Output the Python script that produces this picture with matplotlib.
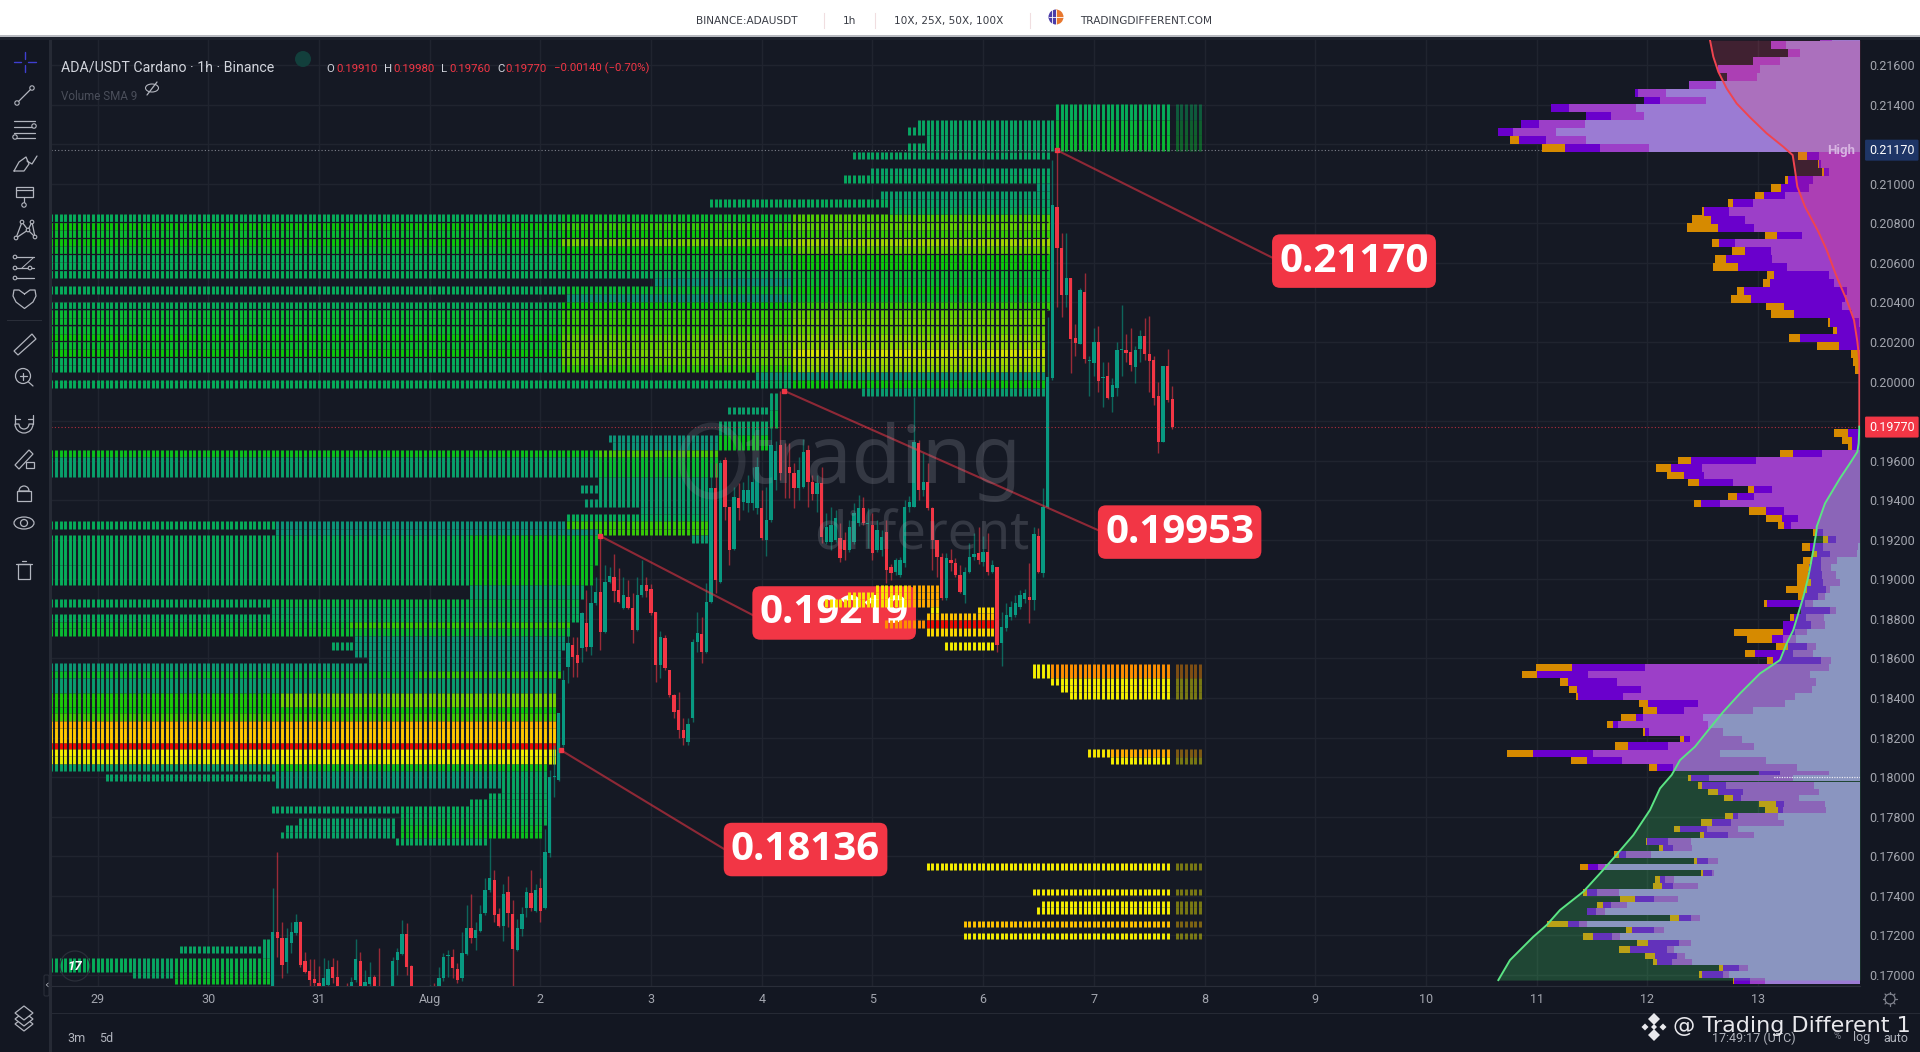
"""ADA/USDT 1h chart with liquidation heatmap and volume profile."""
import numpy as np
import matplotlib
matplotlib.use("Agg")
import matplotlib.pyplot as plt
from matplotlib.colors import LinearSegmentedColormap
from matplotlib.patches import Rectangle, Circle, Ellipse, Polygon, Wedge, FancyBboxPatch

BG = "#131722"
UP = "#089981"
DOWN = "#F23645"
GRID = "#20242F"
ICON = "#B2B5BE"

# candles: one per hour, prices in 1e-5 USDT, first candle at hour 38 after Jul 29 00:00
candle_first_hour = 38
candle_open = [
    16900, 17219, 17185, 17067, 17160, 17210, 17269, 17070, 17020, 16979,
    16957, 16930, 16949, 17038, 16991, 16930, 16935, 16941, 16974, 17070,
    16930, 16954, 16988, 16935, 16900, 16885, 16900, 17075, 17106, 17207,
    17045, 16930, 16900, 16890, 16910, 16930, 16930, 16983, 17096, 17089,
    17028, 16983, 17106, 17235, 17185, 17224, 17311, 17429, 17480, 17308,
    17249, 17417, 17308, 17126, 17232, 17340, 17416, 17325, 17438, 17337,
    17618, 18002, 17985, 18163, 18558, 18668, 18617, 18651, 18777, 18660,
    18878, 18937, 18735, 18988, 19010, 18946, 18853, 18912, 18853, 18743,
    18920, 18971, 18949, 18836, 18567, 18701, 18541, 18415, 18340, 18240,
    18180, 18300, 18685, 18723, 18634, 18887, 19460, 18988, 19603, 19367,
    19156, 19409, 19392, 19384, 19384, 19359, 19359, 19199, 19300, 19500,
    19679, 19540, 19569, 19536, 19460, 19468, 19653, 19493, 19434, 19485,
    19190, 19190, 19199, 19207, 19199, 19148, 19190, 19283, 19359, 19279,
    19274, 19148, 19150, 19241, 19064, 19038, 19022, 19081, 19367, 19367,
    19687, 19451, 19493, 19359, 19199, 19114, 18904, 19097, 19081, 19022,
    18920, 19038, 19114, 19131, 19089, 19140, 19038, 19064, 18676, 18752,
    18811, 18819, 18861, 18900, 18912, 18895, 19219, 19030, 19367, 20016,
    20884, 20677, 20438, 20522, 20219, 20190, 20451, 20106, 20096, 20199,
    20017, 20028, 19924, 19969, 20160, 20160, 20151, 20076, 20165, 20232,
    20140, 20109, 19929, 19696, 20081, 19910,
]
candle_close = [
    17219, 17185, 17050, 17185, 17219, 17269, 17050, 17013, 16974, 16957,
    16944, 16983, 17028, 16983, 16941, 16920, 16900, 16966, 17080, 16941,
    16966, 16988, 16930, 16900, 16885, 16900, 17070, 17117, 17207, 17042,
    16930, 16900, 16890, 16910, 16935, 16925, 16983, 17089, 17100, 17033,
    16974, 17109, 17235, 17185, 17227, 17306, 17429, 17488, 17303, 17247,
    17409, 17315, 17131, 17235, 17308, 17417, 17337, 17429, 17325, 17620,
    18002, 18008, 18324, 18490, 18676, 18609, 18575, 18828, 18660, 18878,
    18937, 18735, 18988, 19017, 18942, 18887, 18920, 18853, 18743, 18920,
    18971, 18942, 18828, 18567, 18710, 18550, 18415, 18330, 18240, 18200,
    18270, 18685, 18727, 18634, 18887, 19460, 18996, 19586, 19367, 19148,
    19418, 19359, 19451, 19451, 19493, 19569, 19207, 19300, 19679, 19650,
    19536, 19536, 19536, 19460, 19552, 19645, 19493, 19434, 19485, 19215,
    19266, 19274, 19308, 19106, 19148, 19266, 19333, 19359, 19283, 19281,
    19131, 19249, 19215, 19047, 19030, 19097, 19097, 19367, 19392, 19696,
    19451, 19493, 19359, 19199, 19114, 18904, 19106, 19081, 19022, 18937,
    19038, 19114, 19128, 19097, 19140, 19038, 19072, 18668, 18760, 18819,
    18861, 18878, 18920, 18930, 18895, 19227, 19038, 19367, 20025, 20893,
    20674, 20438, 20522, 20214, 20193, 20463, 20114, 20110, 20199, 20005,
    20019, 19915, 19983, 20160, 20162, 20146, 20084, 20160, 20232, 20140,
    20106, 19915, 19696, 20081, 19907, 19770,
]
candle_high = [
    17438, 17623, 17269, 17235, 17269, 17306, 17275, 17117, 17079, 17079,
    17045, 17087, 17075, 17087, 17075, 16940, 16957, 16991, 17180, 17117,
    17025, 17067, 17000, 17134, 16930, 16920, 17092, 17134, 17278, 17261,
    17050, 16935, 16925, 16930, 16950, 16960, 17038, 17109, 17126, 17129,
    17059, 17219, 17353, 17409, 17269, 17353, 17488, 17690, 17530, 17337,
    17459, 17502, 17379, 17281, 17345, 17446, 17530, 17459, 17488, 17738,
    18036, 18162, 18324, 18540, 18760, 18710, 18710, 18836, 18946, 18971,
    19013, 19225, 19072, 19064, 19128, 19055, 19013, 18996, 18929, 19013,
    19097, 19013, 18979, 18836, 18740, 18718, 18541, 18420, 18430, 18300,
    18300, 18700, 18836, 18811, 18980, 19590, 19586, 19603, 19620, 19367,
    19468, 19485, 19493, 19530, 19569, 19620, 19451, 19468, 19940, 19700,
    19953, 19690, 19688, 19586, 19620, 19712, 19679, 19530, 19527, 19569,
    19333, 19367, 19350, 19283, 19241, 19300, 19384, 19426, 19418, 19359,
    19333, 19300, 19250, 19300, 19080, 19110, 19114, 19400, 19420, 19923,
    19704, 19637, 19586, 19367, 19199, 19131, 19131, 19156, 19106, 19072,
    19064, 19182, 19232, 19266, 19220, 19232, 19100, 19064, 18836, 18878,
    18890, 18920, 18946, 18950, 19081, 19266, 19258, 19460, 20328, 21120,
    21171, 20749, 20749, 20522, 20291, 20471, 20547, 20129, 20269, 20281,
    20097, 20097, 20020, 20199, 20387, 20241, 20269, 20180, 20261, 20322,
    20332, 20129, 20000, 20081, 20163, 19980,
]
candle_low = [
    16880, 17092, 16983, 17011, 17109, 17200, 17038, 17008, 16941, 16930,
    16930, 16920, 16930, 16960, 16930, 16900, 16880, 16930, 16966, 16900,
    16920, 16940, 16900, 16880, 16870, 16860, 16890, 17000, 17100, 17000,
    16900, 16880, 16870, 16860, 16890, 16900, 16900, 16970, 16991, 16983,
    16957, 16970, 17100, 17163, 17126, 17219, 17303, 17420, 17269, 17240,
    17173, 17244, 16944, 17123, 17197, 17294, 17325, 17320, 17269, 17333,
    17598, 17901, 17980, 18150, 18474, 18508, 18508, 18580, 18640, 18617,
    18870, 18642, 18727, 18980, 18887, 18878, 18848, 18848, 18680, 18740,
    18912, 18909, 18820, 18483, 18499, 18541, 18407, 18300, 18200, 18165,
    18160, 18280, 18634, 18575, 18626, 18880, 18929, 18980, 19300, 19072,
    19148, 19300, 19350, 19340, 19350, 19330, 19200, 19120, 19290, 19450,
    19500, 19409, 19409, 19359, 19400, 19460, 19367, 19400, 19340, 19182,
    19180, 19148, 19190, 19089, 19098, 19140, 19180, 19270, 19275, 19160,
    19098, 19140, 19120, 18980, 18996, 19020, 19010, 19064, 19340, 19364,
    19401, 19420, 19350, 19047, 19013, 18895, 18895, 19040, 19010, 18929,
    18878, 19030, 19100, 19080, 19070, 19020, 19030, 18634, 18561, 18740,
    18795, 18810, 18850, 18880, 18777, 18845, 19030, 19010, 19360, 20010,
    20379, 20325, 20379, 20042, 20129, 20188, 20092, 19929, 20030, 19949,
    19873, 19912, 19848, 19929, 20030, 20101, 20055, 19991, 20101, 20109,
    19949, 19882, 19641, 19694, 19899, 19760,
]

# heatmap block above 0.199: row tops and a level for each of three hour ranges
main_top = [20847, 20806, 20765, 20725, 20684, 20644, 20603, 20563, 20523, 20483, 20443, 20403,
            20363, 20323, 20283, 20243, 20203, 20164, 20124, 20085, 20046, 20006, 19967, 19928]
main_start = [-10, -10, -10, -10, -10, -10, -10, -10, 121, -10, 102, -10,
              -10, -10, -10, -10, -10, -10, -10, -10, 143, -10, 166]
main_end = [206, 206, 206, 206, 206, 206, 206, 206, 206, 206, 206, 206,
            205, 205, 205, 205, 205, 205, 205, 205, 205, 205, 205]
main_level_a = [1, 2, 1.5, 2, 1.5, 1, 1, 1, 0.3, 1, 0.3, 1, 1.5, 1.5, 1.5, 2, 1.5, 2, 1, 1, 0.3, 1, 0.5]
main_level_b = [1.5, 2.5, 2, 3.3, 2, 1.5, 1.5, 1, 0.3, 1.5, 0.3, 2, 2.5, 2.5, 2.5, 3, 3, 3.3, 3, 2.5, 0.3, 1, 0.5]
main_level_c = [2.8, 3, 2.5, 3.8, 3, 2, 2, 1.5, 1.5, 2, 1.5, 2.5, 3, 3.2, 3, 3.5, 3.5, 4.5, 3.8, 3.5, 0.3, 2, 0.5]
main_divider = [20806, 20724, 20643, 20562, 20365, 20284, 20203, 20122]

# all other heatmap stretches
heat_top = [
    21403, 21322, 21246, 21322, 21287, 21246, 21207, 21162, 21081, 21044,
    21004, 20963, 20923, 20923, 20882, 19942, 19856, 19873, 19800, 19730,
    19730, 19694, 19654, 19654, 19617, 19617, 19517, 19477, 19405, 19366,
    19330, 19296, 19296, 19296, 19256, 19256, 19224, 19224, 19224, 19073,
    19073, 18971, 18899, 18899, 18862, 18825, 18825, 18786, 18786, 18753,
    18753, 18714, 18685, 18685, 18643, 18607, 18576, 18537, 18537, 18500,
    18424, 18424, 18353, 18323, 18284, 18249, 18174, 18142, 18105, 18067,
    18067, 18015, 18033, 18033, 17920, 17888, 17854, 17854, 17820, 17792,
    17792, 17758, 17758, 17724, 17724, 17691, 17147, 17180, 17084, 17084,
    17084, 17017, 17017, 16983, 18971, 18971, 18935, 18935, 18901, 18901,
    18862, 18862, 18828, 18795, 18795, 18753, 18683, 18572, 18572, 18503,
    18466, 18429, 18141, 18141, 18104, 17565, 17436, 17374, 17342, 17274,
    17214,
]
heat_bottom = [
    21322, 21246, 21167, 21246, 21246, 21167, 21167, 21123, 21044, 21004,
    20963, 20923, 20882, 20882, 20847, 19856, 19765, 19836, 19730, 19654,
    19694, 19654, 19617, 19617, 19517, 19517, 19366, 19438, 19366, 19330,
    19296, 19256, 19256, 19256, 19224, 19224, 19185, 19073, 19073, 18971,
    18971, 18899, 18862, 18862, 18825, 18786, 18786, 18753, 18753, 18714,
    18714, 18685, 18643, 18643, 18607, 18576, 18537, 18500, 18500, 18424,
    18353, 18353, 18323, 18284, 18249, 18174, 18142, 18105, 18067, 18033,
    18033, 17981, 17947, 17920, 17888, 17854, 17820, 17820, 17792, 17758,
    17758, 17724, 17724, 17691, 17691, 17657, 17113, 17084, 17017, 17017,
    17017, 16983, 16983, 16956, 18935, 18935, 18901, 18901, 18862, 18862,
    18828, 18828, 18795, 18753, 18753, 18715, 18643, 18503, 18503, 18466,
    18429, 18394, 18104, 18104, 18067, 17531, 17403, 17342, 17308, 17243,
    17180,
]
heat_from = [
    208, 208, 208, 178, 176, 180, 176, 164, 168, 162,
    204, 170, 133, 172, 172, 146, 146, 137, 135, 135,
    111, 112, -10, 109, -10, 109, 109, 105, 106, 118,
    102, -10, 39, 102, 39, 109, 129, -10, 81, -10,
    81, 81, -10, 38, 38, -10, 38, -10, 55, -10,
    55, 56, 51, 56, 56, 59, -10, -10, 70, -10,
    -10, 40, -10, -10, -10, -10, -10, -10, -10, -10,
    39, 2, 39, 88, 85, 81, 38, 66, 66, 44,
    66, 41, 66, 40, 66, 65, 18, 36, -10, 8,
    17, 8, 17, 17, 169, 176, 163, 176, 158, 176,
    181, 191, 180, 171, 180, 180, 184, 203, 207, 207,
    209, 211, 215, 220, 220, 180, 203, 205, 204, 188,
    188,
]
heat_to = [
    232, 232, 232, 207, 177, 207, 179, 206, 206, 206,
    206, 206, 172, 206, 206, 147, 147, 145, 145, 145,
    134, 134, 108, 134, 108, 134, 132, 108, 108, 132,
    132, 38, 101, 132, 108, 132, 132, 80, 108, 80,
    107, 105, 37, 104, 104, 37, 104, 54, 102, 54,
    102, 101, 55, 101, 100, 100, 100, 69, 100, 99,
    39, 99, 99, 99, 99, 99, 99, 99, 99, 38,
    97, 38, 87, 97, 97, 97, 65, 97, 97, 64,
    97, 64, 96, 64, 96, 84, 35, 37, 7, 16,
    37, 16, 37, 37, 175, 182, 175, 182, 175, 182,
    182, 194, 194, 179, 194, 194, 194, 206, 232, 232,
    232, 232, 219, 232, 232, 232, 232, 232, 232, 232,
    232,
]
heat_level = [
    1.0, 1.4, 1.5, 0.8, 0.8, 0.8, 0.8, 0.8, 0.7, 0.9,
    0.4, 0.6, 1.0, 0.7, 1.0, 0.6, 1.2, 0.6, 0.7, 1.8,
    0.3, 0.3, 1.8, 2.7, 0.6, 1.5, 0.6, 0.5, 0.5, 0.6,
    1.0, 1.0, 0.3, 2.5, 0.3, 2.5, 0.5, 1.0, 1.7, 1.0,
    1.8, 0.6, 1.0, 1.3, 0.9, 1.0, 1.0, 1.5, 2.5, 1.5,
    1.5, 0.4, 0.8, 0.4, 0.4, 0.4, 0.4, 1.6, 2.5, 0.5,
    2.2, 3.2, 2.0, 2.6, 6.4, 5.9, 8.0, 5.0, 4.7, 0.7,
    1.8, 0.7, 0.4, 0.8, 0.9, 1.0, 0.7, 1.0, 1.0, 0.7,
    1.2, 0.7, 1.6, 0.7, 1.8, 0.9, 0.8, 0.8, 1.0, 0.8,
    1.2, 0.8, 1.5, 1.6, 5.2, 6.5, 5.2, 6.5, 5.3, 6.5,
    5.0, 5.5, 6.0, 7.0, 8.0, 5.5, 5.0, 5.0, 7.0, 5.0,
    5.0, 5.0, 5.2, 6.5, 5.0, 5.0, 5.0, 5.0, 5.0, 6.0,
    5.0,
]

# volume profile rows: price (1e-5 USDT) and stacked volume ends, arbitrary units
vp_price = [
    21743, 21701, 21662, 21622, 21582, 21541, 21501, 21460, 21420, 21381,
    21341, 21300, 21261, 21221, 21180, 21140, 21100, 21061, 21020, 20980,
    20940, 20901, 20860, 20820, 20779, 20739, 20700, 20660, 20619, 20579,
    20538, 20498, 20459, 20419, 20380, 20340, 20299, 20260, 20220, 20180,
    20139, 20100, 20060, 19741, 19704, 19671, 19635, 19598, 19563, 19526,
    19489, 19453, 19418, 19383, 19346, 19308, 19273, 19236, 19202, 19165,
    19128, 19094, 19059, 19022, 18984, 18949, 18914, 18878, 18841, 18806,
    18769, 18733, 18698, 18659, 18624, 18588, 18553, 18518, 18481, 18444,
    18408, 18373, 18336, 18300, 18265, 18228, 18192, 18157, 18120, 18085,
    18049, 18015, 17994, 17960, 17926, 17896, 17864, 17834, 17802, 17770,
    17738, 17706, 17674, 17642, 17610, 17577, 17545, 17513, 17481, 17449,
    17417, 17385, 17353, 17321, 17289, 17257, 17225, 17193, 17161, 17129,
    17097, 17065, 17033, 17001, 16969,
]
vp_orange = [
    120, 267, 217, 320, 425, 400, 512, 675, 647, 928,
    822, 1018, 1086, 1050, 954, 185, 126, 115, 224, 267,
    315, 396, 475, 503, 520, 284, 444, 385, 435, 441,
    278, 292, 368, 387, 282, 267, 96, 81, 213, 129,
    28, 20, 14, 79, 53, 37, 240, 545, 613, 579,
    515, 335, 397, 498, 332, 282, 245, 140, 110, 174,
    140, 170, 188, 188, 188, 222, 185, 287, 178, 210,
    232, 377, 340, 253, 346, 278, 973, 1015, 900, 872,
    852, 663, 652, 717, 758, 650, 540, 734, 1058, 866,
    633, 303, 517, 485, 455, 408, 303, 285, 405, 478,
    557, 480, 643, 603, 738, 497, 840, 478, 615, 622,
    832, 720, 790, 818, 570, 940, 703, 832, 670, 723,
    644, 620, 422, 483, 380,
]
vp_dark = [
    120, 267, 217, 320, 425, 400, 512, 675, 647, 928,
    822, 1018, 1086, 1023, 885, 160, 122, 108, 217, 236,
    287, 380, 467, 447, 427, 250, 422, 345, 402, 367,
    259, 270, 349, 327, 228, 197, 90, 68, 180, 62,
    0, 0, 0, 36, 25, 25, 202, 508, 568, 529,
    483, 318, 368, 478, 283, 233, 228, 130, 97, 150,
    130, 145, 152, 155, 148, 158, 170, 280, 178, 198,
    232, 230, 265, 215, 315, 262, 863, 970, 875, 848,
    846, 636, 610, 672, 742, 645, 528, 695, 982, 818,
    608, 303, 507, 475, 425, 382, 253, 245, 380, 445,
    540, 467, 638, 590, 723, 488, 816, 472, 600, 593,
    818, 675, 772, 818, 542, 876, 684, 800, 635, 690,
    615, 610, 412, 475, 377,
]
vp_mid = [
    120, 267, 217, 320, 425, 400, 512, 667, 600, 873,
    748, 962, 1041, 942, 780, 123, 118, 93, 142, 152,
    226, 322, 392, 346, 318, 175, 375, 267, 265, 220,
    93, 78, 40, 45, 54, 25, 2, 0, 0, 0,
    0, 0, 0, 0, 0, 0, 115, 312, 473, 468,
    382, 264, 318, 420, 228, 186, 208, 110, 72, 110,
    90, 118, 118, 115, 112, 102, 125, 165, 90, 162,
    148, 195, 232, 158, 200, 117, 645, 815, 730, 658,
    712, 487, 528, 650, 727, 633, 510, 575, 800, 714,
    560, 240, 452, 402, 350, 357, 228, 230, 365, 387,
    460, 397, 577, 560, 702, 455, 785, 445, 585, 560,
    790, 618, 748, 792, 508, 843, 617, 743, 543, 580,
    548, 565, 363, 410, 330,
]
vp_light = [
    85, 223, 180, 240, 300, 310, 433, 582, 462, 672,
    648, 825, 912, 822, 633, 0, 0, 0, 0, 0,
    0, 0, 0, 0, 0, 0, 0, 0, 0, 0,
    0, 0, 0, 0, 0, 0, 0, 0, 0, 0,
    0, 0, 0, 0, 0, 0, 0, 0, 0, 0,
    0, 0, 0, 0, 0, 0, 0, 0, 0, 5,
    10, 70, 87, 72, 60, 90, 105, 140, 73, 107,
    105, 160, 192, 132, 140, 87, 93, 150, 132, 143,
    195, 225, 322, 470, 455, 412, 355, 318, 420, 282,
    190, 93, 202, 138, 124, 182, 105, 102, 245, 227,
    367, 317, 507, 505, 627, 425, 765, 437, 558, 485,
    723, 547, 698, 765, 480, 819, 588, 720, 507, 558,
    524, 505, 335, 392, 285,
]

# moving curves over the profile
red_curve_price = [21726, 21642, 21566, 21482, 21406, 21336, 21255, 21187, 21145, 21069,
                   20985, 20884, 20758, 20665, 20530, 20412, 20311, 20202, 20109, 19772]
red_curve_vol = [450, 440, 425, 400, 370, 330, 280, 230, 202, 195,
                 188, 165, 125, 100, 70, 40, 18, 8, 2, 2]
green_curve_price = [19772, 19688, 19645, 19587, 19511, 19384, 19266, 19249, 19148, 19013, 18912,
                     18828, 18744, 18676, 18592, 18524, 18423, 18331, 18238, 18154, 18086,
                     18011, 17943, 17834, 17707, 17589, 17513, 17421, 17328, 17252, 17193,
                     17075, 16974]
green_curve_vol = [2, 4, 8, 30, 60, 105, 130, 130, 140, 155, 170,
                   185, 200, 220, 240, 300, 360, 410, 455, 495, 540,
                   565, 600, 630, 680, 740, 780, 830, 900, 940, 980,
                   1050, 1085]

price_ticks = [0.170, 0.172, 0.174, 0.176, 0.178, 0.180, 0.182, 0.184, 0.186, 0.188, 0.190, 0.192,
               0.194, 0.196, 0.198, 0.200, 0.202, 0.204, 0.206, 0.208, 0.210, 0.212, 0.214, 0.216]
day_labels = ["29", "30", "31", "Aug", "2", "3", "4", "5", "6", "7", "8", "9", "10", "11", "12", "13"]

# drawn callouts: hour and price where the line starts, where it meets the box, box text
call_text = ["0.21170", "0.19953", "0.19219", "0.18136"]
call_hour = [208.0, 148.9, 109.0, 100.5]
call_price = [0.21170, 0.19953, 0.19219, 0.18136]
call_end_hour = [254.9, 216.9, 142.0, 135.8]
call_end_price = [0.20624, 0.19249, 0.18820, 0.17637]
call_box_hour = [272.4, 234.6, 159.7, 153.5]
call_box_price = [0.20609, 0.19239, 0.18830, 0.17634]

plt.rcParams["font.family"] = ["Roboto", "DejaVu Sans"]

fig = plt.figure(figsize=(19.2, 10.52), dpi=100, facecolor=BG)
ax = fig.add_axes([52 / 1920, 1 - 986 / 1052, 1808 / 1920, 946 / 1052], facecolor="#151924")
ax.set_xlim(-9.87, 382.1)
ax.set_ylim(0.16944, 0.21727)

ax.set_xticks(np.arange(len(day_labels)) * 24)
ax.set_xticklabels(day_labels)
ax.set_yticks(price_ticks)
ax.set_yticklabels([f"{v:.5f}" for v in price_ticks])
ax.yaxis.tick_right()
ax.tick_params(length=0, labelsize=9, colors="#A3A6AF")
ax.tick_params(axis="y", pad=6.5)
ax.tick_params(axis="x", pad=5)
ax.grid(color=GRID, linewidth=1)
ax.set_axisbelow(True)
for side in ["top", "left", "right"]:
    ax.spines[side].set_visible(False)
ax.spines["bottom"].set_color("#2A2E39")

cmap = LinearSegmentedColormap.from_list("heat", [
    (0 / 8, "#0E8C84"), (1 / 8, "#06AD5A"), (2 / 8, "#0BC60C"), (3 / 8, "#62CF02"),
    (4 / 8, "#B5DC02"), (5 / 8, "#F6F000"), (6 / 8, "#FFC400"), (7 / 8, "#FF9400"), (8 / 8, "#F00A00")])


def heat_columns(top, bottom, start, end, level):
    hours = np.arange(np.ceil(start), np.floor(end) + 1)
    if len(hours):
        ax.vlines(hours, bottom / 1e5, top / 1e5, colors=[cmap(level / 8)], linewidth=2.1,
                  capstyle="butt", zorder=3)
    if end == 232:
        # the stretch carried on past the last candle is faded
        ax.vlines(np.arange(234, 240), bottom / 1e5, top / 1e5, colors=[cmap(level / 8)], linewidth=2.1,
                  capstyle="butt", alpha=0.45, zorder=3)


for i in range(len(main_start)):
    heat_columns(main_top[i], main_top[i + 1], max(main_start[i], -10), min(main_end[i], 100), main_level_a[i])
    heat_columns(main_top[i], main_top[i + 1], max(main_start[i], 101), min(main_end[i], 150), main_level_b[i])
    heat_columns(main_top[i], main_top[i + 1], max(main_start[i], 151), main_end[i], main_level_c[i])
for row in zip(heat_top, heat_bottom, heat_from, heat_to, heat_level, strict=True):
    heat_columns(*row)
ax.hlines(np.array(main_divider) / 1e5, -10, 206, color=BG, linewidth=0.9, zorder=3.2)

# candles
c_open = np.array(candle_open) / 1e5
c_close = np.array(candle_close) / 1e5
c_high = np.array(candle_high) / 1e5
c_low = np.array(candle_low) / 1e5
c_hour = candle_first_hour + np.arange(len(c_open))
c_color = np.where(c_close >= c_open, UP, DOWN)
ax.vlines(c_hour, c_low, c_high, colors=list(c_color), linewidth=1.0, alpha=0.6, zorder=4)
body = np.maximum(np.abs(c_close - c_open), 0.00004)
ax.bar(c_hour, body, bottom=np.minimum(c_open, c_close), width=0.72, color=list(c_color), zorder=4.2)

# callouts
for i in range(len(call_text)):
    ax.text(call_box_hour[i], call_box_price[i], call_text[i], color="white", fontsize=29, fontweight="bold",
            family="Open Sans", ha="center", va="center", zorder=2,
            bbox=dict(boxstyle="round,pad=0.18,rounding_size=0.2", fc=DOWN, ec="none"))
    ax.plot([call_hour[i], call_end_hour[i]], [call_price[i], call_end_price[i]], color=DOWN,
            alpha=0.55, linewidth=1.5, zorder=5)
    ax.plot([call_hour[i]], [call_price[i]], "s", color=DOWN, markersize=3.2, zorder=5)

# last price and high lines
ax.hlines(0.21170, -10, 382, color="#7E818C", linewidth=0.8, linestyles=(0, (1, 2)), zorder=5)
ax.hlines(0.19770, -10, 382, color=DOWN, linewidth=0.8, alpha=0.7, linestyles=(0, (1, 2)), zorder=5)

# volume profile on its own x scale, measured from the right edge
ax_vp = ax.twiny()
ax_vp.set_xlim(5424, 0)
ax_vp.set_xticks([])
ax_vp.grid(False)
for side in ax_vp.spines:
    ax_vp.spines[side].set_visible(False)
vp_p = np.array(vp_price) / 1e5
vp_height = np.minimum(np.abs(np.gradient(vp_p)) * 1.04, vp_p * 0.00215)
for vols, col in [(vp_orange, "#D68A00"), (vp_dark, "#6A00CC"), (vp_mid, "#9C3FC8"), (vp_light, "#9B7BD3")]:
    ax_vp.barh(vp_p, vols, height=vp_height, color=col, linewidth=0, zorder=2)
ax_vp.fill_betweenx(np.array(red_curve_price) / 1e5, red_curve_vol, 0, color=(239 / 255, 68 / 255, 104 / 255),
                    alpha=0.2, linewidth=0, zorder=3)
ax_vp.fill_betweenx(np.array(green_curve_price) / 1e5, green_curve_vol, 0, color=(74 / 255, 1.0, 120 / 255),
                    alpha=0.2, linewidth=0, zorder=3)
ax_vp.plot(red_curve_vol, np.array(red_curve_price) / 1e5, color="#F0444F", linewidth=1.4, zorder=4)
ax_vp.plot(green_curve_vol, np.array(green_curve_price) / 1e5, color="#5BE584", linewidth=1.4, zorder=4)
ax_vp.hlines(0.18, 0, 260, color="#E8E8F0", linewidth=0.9, linestyles=(0, (1, 1)), zorder=4)
ax_vp.text(15, 0.21170, "High", color="#D8B4E2", fontsize=9.5, fontweight="bold", ha="right", va="center", zorder=5)

# price tags on the scale
tag_tf = ax.get_yaxis_transform()
for price, text, col in [(0.21170, "0.21170", "#1E3566"), (0.19770, "0.19770", DOWN)]:
    ax.text(1.005, price, text, transform=tag_tf, color="white", fontsize=9, ha="left", va="center", zorder=8,
            clip_on=False, bbox=dict(boxstyle="round,pad=0.32,rounding_size=0.1", fc=col, ec="none"))

# everything else sits on a pixel overlay
ov = fig.add_axes([0, 0, 1, 1], facecolor="none")
ov.set_xlim(0, 1920)
ov.set_ylim(1052, 0)
ov.axis("off")


def stroke(xs, ys, color=ICON, lw=0.9):
    ov.plot(xs, ys, color=color, linewidth=lw, solid_capstyle="round")


def ring(x, y, r=2.2, color=ICON):
    ov.add_patch(Circle((x, y), r, fc=BG, ec=color, lw=0.8, zorder=3))


ov.add_patch(Rectangle((0, 0), 1920, 35, fc="white", ec="none"))
ov.add_patch(Rectangle((0, 35), 1920, 1.5, fc="#B8BAC0", ec="none"))
ov.add_patch(Rectangle((0, 36.5), 1920, 3.5, fc="#1E222D", ec="none"))
ov.add_patch(Rectangle((49, 40), 3, 1012, fc="#262A35", ec="none"))
ov.add_patch(Rectangle((52, 1013), 1868, 1, fc="#262A35", ec="none"))

for x0, text in [(696, "BINANCE:ADAUSDT"), (843, "1h"), (894, "10X, 25X, 50X, 100X"), (1080, "TRADINGDIFFERENT.COM")]:
    ov.text(x0, 21, text, color="#3A3D46", fontsize=7.6, family="DejaVu Sans", ha="left", va="center")
for x0 in [824, 875, 1030]:
    ov.plot([x0, x0], [13, 28], color="#F0DEE0", linewidth=0.8)
ov.add_patch(Wedge((1056, 17), 7.5, 90, 270, fc="#4A3BA8", ec="none"))
ov.add_patch(Wedge((1056, 17), 7.5, 270, 90, fc="#E8772E", ec="none"))
ov.plot([1052, 1052], [10, 24], color="white", linewidth=0.6)
ov.plot([1056, 1056], [10, 24], color="white", linewidth=0.6)
ov.plot([1049, 1063], [17, 17], color="white", linewidth=0.6)

# legend lines
ov.text(61, 68, "ADA/USDT Cardano · 1h · Binance", color="#D1D4DC", fontsize=10.2, ha="left", va="center")
ov.add_patch(Ellipse((303, 59), 16, 16, fc="#123F3C", ec="none"))
for x0, text, col in [(326, "O", "#D1D4DC"), (336, "0.19910", DOWN), (384, "H", "#D1D4DC"), (393, "0.19980", DOWN),
                      (441, "L", "#D1D4DC"), (449, "0.19760", DOWN), (497, "C", "#D1D4DC"), (505, "0.19770", DOWN),
                      (554, "\u22120.00140 (\u22120.70%)", DOWN)]:
    ov.text(x0, 68.5, text, color=col, fontsize=8.2, ha="left", va="center")
ov.text(61, 96, "Volume SMA 9", color="#4A4E5A", fontsize=8.4, ha="left", va="center")
ov.add_patch(Ellipse((152, 88), 13, 8, fc="none", ec=ICON, lw=0.8))
stroke([147, 157], [95, 82])

# left toolbar icons
stroke([24.5, 24.5], [52, 59], "#3F3FD0", 1.0)
stroke([24.5, 24.5], [65, 72], "#3F3FD0", 1.0)
stroke([14, 21], [62, 62], "#3F3FD0", 1.0)
stroke([28, 36], [62, 62], "#3F3FD0", 1.0)
stroke([17, 32], [103, 88])
ring(17, 103)
ring(32, 88)
for yy, x0 in [(121, 14), (127, 14), (133, 14), (138, 16)]:
    stroke([x0, 35], [yy, yy])
ring(34, 126)
ring(15, 137)
stroke([14, 19, 26, 29, 24, 14], [171, 162, 157, 164, 171, 171])
stroke([27, 32, 37], [161, 164, 156])
ov.add_patch(Rectangle((15.5, 187), 17, 10, fc="none", ec=ICON, lw=0.9))
stroke([15.5, 32.5], [190, 190])
stroke([24, 24], [197, 203])
ring(24, 205)
stroke([16, 22, 28, 32, 35], [238, 222, 230, 222, 237])
stroke([16, 28, 35], [238, 230, 237])
for px, py in [(16, 238), (22, 222), (28, 230), (32, 222), (35, 237)]:
    ring(px, py, 1.8)
for yy in [257, 268, 278]:
    stroke([15, 34], [yy, yy])
stroke([22, 33], [268, 258], ICON, 0.7)
for px, py in [(15, 257), (15, 268), (15, 278), (30, 268)]:
    ring(px, py, 1.8)
hx = np.array([24.5, 30, 35, 36, 33, 24.5, 16, 13, 14, 19, 24.5])
hy = np.array([294, 290, 290, 296, 302, 308.5, 302, 296, 290, 290, 294])
stroke(hx, hy)
ov.add_patch(Rectangle((7, 320), 35, 1.2, fc="#2A2E39", ec="none"))
ov.add_patch(Polygon([(14, 351), (32, 334), (36, 339), (18, 355)], closed=True, fc="none", ec=ICON, lw=0.9))
ov.add_patch(Circle((23, 376), 7.5, fc="none", ec=ICON, lw=0.9))
stroke([28.5, 33], [382, 386])
stroke([19.5, 26.5], [376, 376])
stroke([23, 23], [372.5, 379.5])
ov.add_patch(Wedge((24, 424), 9, 0, 180, width=4, fc="none", ec=ICON, lw=0.9))
stroke([15, 15], [415, 424])
stroke([33, 33], [415, 424])
stroke([15, 20], [419, 419])
stroke([28, 33], [419, 419])
ov.add_patch(Polygon([(15, 465), (29, 450), (33, 454), (19, 469)], closed=True, fc="none", ec=ICON, lw=0.9))
ov.add_patch(Rectangle((26, 462), 8, 6, fc="none", ec=ICON, lw=0.9))
ov.add_patch(Rectangle((17, 491), 14, 10, fc="none", ec=ICON, lw=0.9))
ov.add_patch(Wedge((24, 491), 5, 180, 360, fc="none", ec=ICON, lw=0.9))
ov.add_patch(Ellipse((24, 523), 20, 12, fc="none", ec=ICON, lw=0.9))
ov.add_patch(Circle((24, 523), 3.5, fc="none", ec=ICON, lw=0.9))
stroke([16, 32], [564, 564])
ov.add_patch(Rectangle((18, 564), 12, 15, fc="none", ec=ICON, lw=0.9))
stroke([22, 26], [561, 561])
for yy in [1024, 1019, 1013]:
    ov.add_patch(Polygon([(15, yy), (24, yy - 7), (33, yy), (24, yy + 7)], closed=True, fc=BG, ec=ICON, lw=0.9))

# bottom strip
ov.add_patch(FancyBboxPatch((44, 975), 5, 21, boxstyle="round,pad=0,rounding_size=1.5", fc="none", ec="#2A2E39", lw=0.8))
ov.text(46.5, 985, "\u2039", color=ICON, fontsize=8, ha="center", va="center", family="DejaVu Sans")
ov.text(67, 1038, "3m", color="#B2B5BE", fontsize=9, ha="left", va="center")
ov.text(99, 1038, "5d", color="#B2B5BE", fontsize=9, ha="left", va="center")
ov.text(1712, 1038, "17:49:17 (UTC)", color="#B2B5BE", fontsize=9, ha="left", va="center")
ov.text(1834, 1036, "%", color="#80838E", fontsize=7, ha="left", va="center")
ov.text(1853, 1038, "log", color="#B2B5BE", fontsize=9, ha="left", va="center")
ov.text(1883, 1038, "auto", color="#B2B5BE", fontsize=9, ha="left", va="center")
ov.add_patch(Circle((1890, 999), 5, fc="none", ec="#80838E", lw=0.9))
for ang in np.deg2rad(np.arange(0, 360, 45)):
    stroke([1890 + 5 * np.cos(ang), 1890 + 7 * np.cos(ang)], [999 + 5 * np.sin(ang), 999 + 7 * np.sin(ang)], "#80838E", 0.9)

ov.text(1673, 1026, "@ Trading Different 1", color="#E8E8EC", fontsize=16, family="DejaVu Sans", ha="left", va="center")
for cx, cy, r in [(1654, 1019, 6), (1654, 1035, 6), (1645, 1027, 3.5), (1663, 1027, 3.5), (1654, 1027, 3)]:
    ov.add_patch(Polygon([(cx - r, cy), (cx, cy - r), (cx + r, cy), (cx, cy + r)], closed=True, fc="#E8E8EC", ec="none"))

# corner logo
ov.add_patch(Circle((75, 966), 15, fc="none", ec="#2A2E39", lw=0.9))
ov.text(75, 966, "17", color="white", fontsize=9.5, fontweight="bold", ha="center", va="center", style="italic")

# watermark
mark = "#9A9DA8"
ov.add_patch(Ellipse((712, 461), 60, 70, fc="none", ec=mark, lw=5, alpha=0.18))
ov.text(745, 462, "trading", color=mark, alpha=0.24, fontsize=58, fontweight="bold", family="Noto Sans", ha="left", va="center")
ov.text(814, 536, "different", color=mark, alpha=0.24, fontsize=38, family="Noto Sans", ha="left", va="center")

fig.savefig("out.png", dpi=100, facecolor=BG)
